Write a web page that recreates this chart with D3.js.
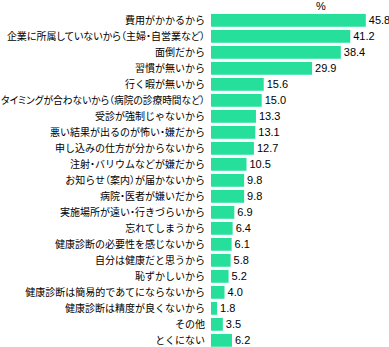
<!DOCTYPE html>
<html>
<head>
<meta charset="utf-8">
<script src="https://cdn.jsdelivr.net/npm/d3@7"></script>
<style>
  body { margin: 0; background: #fff; }
  svg { display: block; }
  .cat { font-family: "Noto Sans CJK JP", sans-serif; font-size: 10px; fill: #000; }
  .cat .p, .cat.tight { font-feature-settings: "palt"; }
  .val { font-family: "Liberation Sans", Arial, sans-serif; font-size: 11px; fill: #000; }
</style>
</head>
<body>
<svg id="chart"></svg>
<script>
// reasons (top to bottom) and share in %
const categories = [
    '費用がかかるから',
    '企業に所属していないから（主婦・自営業など）',
    '面倒だから',
    '習慣が無いから',
    '行く暇が無いから',
    'タイミングが合わないから（病院の診療時間など）',
    '受診が強制じゃないから',
    '悪い結果が出るのが怖い・嫌だから',
    '申し込みの仕方が分からないから',
    '注射・バリウムなどが嫌だから',
    'お知らせ（案内）が届かないから',
    '病院・医者が嫌いだから',
    '実施場所が遠い・行きづらいから',
    '忘れてしまうから',
    '健康診断の必要性を感じないから',
    '自分は健康だと思うから',
    '恥ずかしいから',
    '健康診断は簡易的であてにならないから',
    '健康診断は精度が良くないから',
    'その他',
    'とくにない'
];
const values = [45.8, 41.2, 38.4, 29.9, 15.6, 15.0, 13.3, 13.1, 12.7, 10.5, 9.8, 9.8, 6.9, 6.4, 6.1, 5.8, 5.2, 4.0, 1.8, 3.5, 6.2];
const unitLabel = '%';

const width = 389, height = 347;
const barColor = '#26df9a';

const svg = d3.select('#chart').attr('width', width).attr('height', height);

const x = d3.scaleLinear().domain([0, 50]).range([211, 380]);
const y = d3.scaleBand()
    .domain(categories)
    .range([12.35, 348.35])
    .paddingInner(0.2)
    .paddingOuter(0.1);

const data = categories.map((c, i) => ({ cat: c, v: values[i] }));

svg.append('g').selectAll('rect')
    .data(data)
    .enter()
    .append('rect')
    .attr('x', x(0))
    .attr('y', d => y(d.cat))
    .attr('width', d => x(d.v) - x(0))
    .attr('height', y.bandwidth())
    .attr('fill', barColor);

// split labels so brackets and dots get narrow (proportional) widths
const splitLabel = s => s.split(/([（）・])/).filter(t => t.length);
const labelRight = x(0) - 6;
const maxLabel = labelRight - 1;

const cats = svg.append('g').selectAll('text')
    .data(data)
    .enter()
    .append('text')
    .attr('class', 'cat')
    .attr('x', labelRight)
    .attr('y', d => y(d.cat) + y.bandwidth() / 2)
    .attr('dy', '0.36em')
    .attr('text-anchor', 'end');

cats.selectAll('tspan')
    .data(d => splitLabel(d.cat))
    .enter()
    .append('tspan')
    .attr('class', t => /^[（）・]$/.test(t) ? 'p' : null)
    .text(t => t);

// labels that run past the left edge: proportional kana, then squeeze if still needed
cats.each(function (d) {
    if (this.getComputedTextLength() > maxLabel) {
        const t = d3.select(this);
        t.selectAll('tspan').remove();
        t.classed('tight', true).text(d.cat);
        if (this.getComputedTextLength() > maxLabel) {
            t.attr('textLength', maxLabel).attr('lengthAdjust', 'spacingAndGlyphs');
        }
    }
});

svg.append('g').selectAll('text')
    .data(data)
    .enter()
    .append('text')
    .attr('class', 'val')
    .attr('x', d => x(d.v) + 3)
    .attr('y', d => y(d.cat) + y.bandwidth() / 2)
    .attr('dy', '0.36em')
    .text(d => d.v.toFixed(1));

svg.append('text')
    .attr('class', 'val')
    .attr('x', 321)
    .attr('y', 10)
    .attr('text-anchor', 'middle')
    .text(unitLabel);
</script>
</body>
</html>
